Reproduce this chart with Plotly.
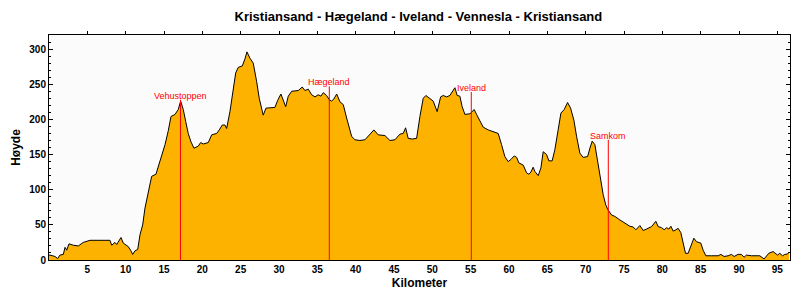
import plotly.graph_objects as go

km = [0.0, 0.13, 0.78, 1.13, 1.43, 1.87, 2.09, 2.31, 2.61, 3.17, 3.82, 4.47, 5.35, 6.65, 7.30, 7.95,
      8.18, 8.61, 8.83, 9.39, 9.69, 10.34, 10.69, 10.91, 11.21, 11.57, 11.87, 12.22, 12.52, 13.04,
      13.39, 13.95, 14.47, 14.77, 15.13, 15.56, 15.91, 16.43, 16.86, 17.17, 17.51, 17.83, 18.16,
      18.52, 18.91, 19.47, 19.78, 20.12, 20.77, 21.22, 21.87, 22.21, 22.60, 22.95, 23.17, 23.60,
      24.03, 24.35, 24.69, 25.21, 25.56, 25.82, 26.21, 26.64, 27.08, 27.42, 27.94, 28.30, 29.47,
      29.82, 30.25, 30.55, 30.87, 31.21, 31.65, 32.51, 33.03, 33.38, 33.81, 34.26, 34.69, 35.12,
      35.47, 35.77, 36.21, 36.55, 36.86, 37.16, 37.52, 37.95, 38.38, 38.82, 39.12, 39.47, 39.90,
      40.55, 41.21, 41.86, 42.38, 42.94, 43.81, 44.47, 45.12, 45.77, 46.20, 46.51, 46.85, 47.37,
      47.95, 48.38, 48.81, 49.16, 49.59, 50.11, 50.63, 51.08, 51.42, 51.86, 52.29, 52.64, 52.94,
      53.24, 53.59, 53.89, 54.25, 54.90, 55.46, 55.77, 56.20, 56.63, 57.29, 57.94, 58.59, 59.03,
      59.46, 59.89, 60.25, 60.68, 60.99, 61.29, 61.85, 62.29, 62.59, 62.85, 63.15, 63.37, 63.81,
      64.16, 64.46, 64.90, 65.20, 65.63, 65.98, 66.41, 66.77, 67.20, 67.64, 68.03, 68.46, 68.81,
      69.24, 69.67, 70.25, 70.55, 70.85, 71.20, 71.63, 71.98, 72.28, 72.63, 72.93, 73.38, 73.81,
      74.46, 75.11, 75.76, 76.19, 76.55, 77.07, 77.50, 77.94, 78.37, 78.59, 79.15, 79.45, 79.90,
      80.24, 80.55, 80.85, 81.11, 81.41, 81.76, 82.06, 82.41, 82.71, 83.02, 83.36, 83.72, 84.11,
      84.46, 85.02, 85.32, 85.67, 86.42, 87.28, 87.63, 88.06, 88.58, 89.02, 89.36, 89.88, 90.32,
      90.66, 90.97, 91.63, 92.71, 93.27, 93.88, 94.45, 95.02, 95.32, 95.67, 95.97, 96.32, 96.53]

hoyde = [7, 7, 5, 2, 7, 8, 18, 14, 23, 21, 20, 25, 28, 28, 29, 28,
         21, 25, 22, 32, 24, 19, 13, 8, 13, 15, 36, 50, 74, 104,
         119, 122, 140, 152, 164, 184, 204, 207, 214, 226, 214, 197, 180,
         168, 159, 162, 167, 165, 167, 178, 180, 185, 192, 192, 187, 211,
         244, 266, 274, 276, 286, 296, 287, 280, 254, 230, 206, 216, 217,
         227, 236, 228, 218, 233, 240, 241, 246, 241, 243, 235, 232, 235,
         233, 238, 234, 228, 226, 229, 236, 225, 221, 202, 188, 176, 171,
         170, 171, 179, 185, 178, 177, 170, 171, 179, 180, 188, 173, 172,
         173, 204, 230, 234, 230, 226, 211, 232, 234, 232, 234, 241, 245,
         234, 233, 218, 207, 208, 214, 207, 198, 189, 185, 183, 180, 164,
         147, 140, 143, 148, 146, 138, 135, 124, 122, 125, 132, 126, 120,
         131, 154, 150, 141, 141, 157, 185, 209, 214, 224, 216, 199, 176,
         152, 146, 147, 159, 169, 164, 138, 116, 93, 78, 71, 64, 62,
         57, 52, 48, 47, 43, 49, 42, 44, 46, 47.5, 55, 47.5, 46,
         43, 46, 44, 48, 41, 43, 45, 39, 26, 9.5, 9.5, 21, 31,
         26, 24, 14, 6, 6, 6, 8, 5, 6, 8, 5, 8, 8,
         4, 7, 6, 6, 1.5, 9.5, 12, 7, 9.5, 6, 8, 8.5, 11]

steder = ["Vehustoppen", "Hægeland", "Iveland", "Samkom"]
steder_km = [17.15, 36.56, 55.08, 72.95]
steder_hoyde = [228, 247, 239, 171]

x_ticks = list(range(5, 100, 5))
y_ticks = list(range(0, 301, 50))

FONT = "Liberation Sans, Arial, sans-serif"

fig = go.Figure()
fig.add_trace(go.Scatter(
    x=km, y=hoyde, mode="lines", fill="tozeroy",
    line=dict(color="black", width=1), fillcolor="#FDB200",
    hoverinfo="x+y", showlegend=False,
))
# invisible trace on top axis so it renders
fig.add_trace(go.Scatter(x=[km[0], km[-1]], y=[0, 0], xaxis="x2", mode="lines",
                         line=dict(width=0), hoverinfo="skip", showlegend=False))

for name, xk, yh in zip(steder, steder_km, steder_hoyde):
    fig.add_shape(type="line", xref="x", yref="y", x0=xk, x1=xk, y0=0, y1=yh,
                  line=dict(color="red", width=1))
    fig.add_annotation(x=xk, y=yh, xref="x", yref="y", text=name, showarrow=False,
                       yanchor="bottom", yshift=-3,
                       font=dict(family=FONT, size=9, color="red"))

fig.update_layout(
    width=800, height=300,
    margin=dict(l=49, r=10, t=35, b=40),
    paper_bgcolor="white", plot_bgcolor="#FBFBFB",
    title=dict(text="<b>Kristiansand - Hægeland - Iveland - Vennesla - Kristiansand</b>",
               x=0.523, xanchor="center", y=0.945, yanchor="middle",
               font=dict(family=FONT, size=13, color="black")),
    xaxis=dict(range=[0, 96.65], tickvals=x_ticks, ticks="", showgrid=False, zeroline=False,
               showline=True, linecolor="black", linewidth=1,
               tickfont=dict(family=FONT, size=10, color="black", weight="bold"),
               title=dict(text="<b>Kilometer</b>", standoff=4,
                          font=dict(family=FONT, size=12, color="black"))),
    xaxis2=dict(range=[0, 96.65], overlaying="x", side="top", tickvals=x_ticks,
                ticks="outside", ticklen=3, tickcolor="black", showticklabels=False,
                showgrid=False, zeroline=False, showline=True, linecolor="black", linewidth=1),
    yaxis=dict(range=[0, 320], tickvals=y_ticks, ticks="inside", ticklen=4, tickcolor="black",
               mirror="ticks", showgrid=False, zeroline=False,
               showline=True, linecolor="black", linewidth=1,
               minor=dict(dtick=10, ticks="inside", ticklen=2, tickcolor="black"),
               tickfont=dict(family=FONT, size=10, color="black", weight="bold"),
               title=dict(text="<b>Høyde</b>", standoff=6,
                          font=dict(family=FONT, size=12, color="black"))),
)

fig.write_html("out.html")
